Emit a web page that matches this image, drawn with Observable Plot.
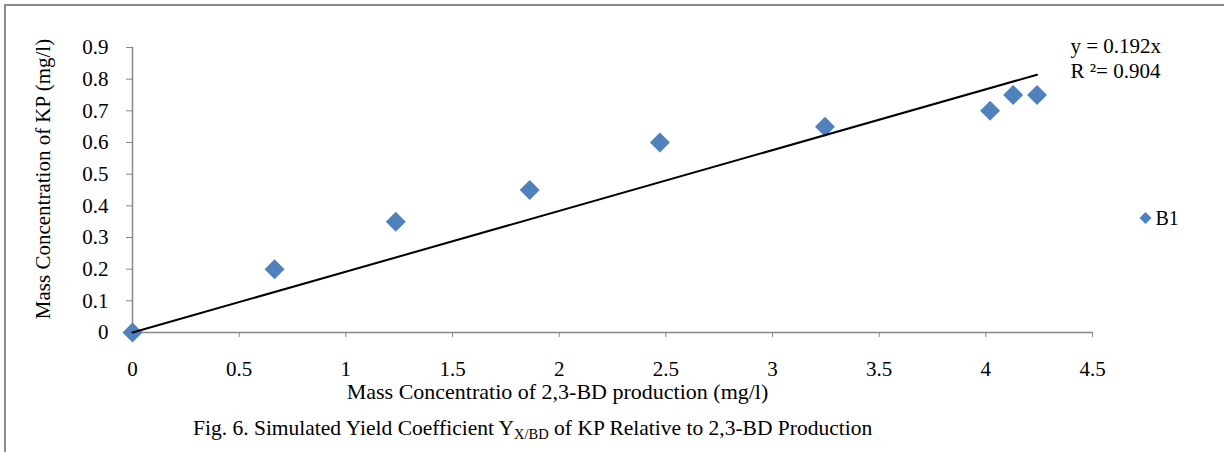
<!DOCTYPE html>
<html>
<head>
<meta charset="utf-8">
<script src="https://cdn.jsdelivr.net/npm/d3@7"></script>
<script src="https://cdn.jsdelivr.net/npm/@observablehq/plot@0.6"></script>
<style>
  html, body { margin: 0; padding: 0; background: #fff; }
  #wrap { position: relative; width: 1224px; height: 452px; overflow: hidden; font-family: "Liberation Serif", "Times New Roman", serif; }
  #frame { position: absolute; left: 4px; top: 4px; width: 1240px; height: 470px; border-top: 2px solid #8a8a8a; border-left: 2px solid #8a8a8a; }
  #chart { position: absolute; left: 0; top: 0; }
  #caption { position: absolute; left: 193px; top: 418px; font-size: 21.5px; line-height: 21px; color: #000; white-space: nowrap; }
  #caption sub { font-size: 14.5px; line-height: 0; vertical-align: -4px; }
</style>
</head>
<body>
<div id="wrap">
  <div id="frame"></div>
  <div id="chart"></div>
  <div id="caption">Fig. 6. Simulated Yield Coefficient Y<sub>X/BD</sub> of KP Relative to 2,3-BD Production</div>
</div>
<script>
// Data
const bdProduction = [0, 0.666, 1.234, 1.862, 2.472, 3.246, 4.02, 4.128, 4.24];
const kpConcentration = [0, 0.2, 0.35, 0.45, 0.6, 0.65, 0.7, 0.75, 0.75];
const seriesName = "B1";
const slope = 0.192;
const equationLines = ["y = 0.192x", "R \u00B2= 0.904"];
const xTicks = [0, 0.5, 1, 1.5, 2, 2.5, 3, 3.5, 4, 4.5];
const yTicks = [0, 0.1, 0.2, 0.3, 0.4, 0.5, 0.6, 0.7, 0.8, 0.9];
const xLabel = "Mass Concentratio of 2,3-BD production (mg/l)";
const yLabel = "Mass Concentration of KP (mg/l)";

const points = bdProduction.map((x, i) => ({x, y: kpConcentration[i]}));
const xMax = d3.max(bdProduction);
const trend = [{x: 0, y: 0}, {x: xMax, y: slope * xMax}];

const font = `"Liberation Serif", "Times New Roman", serif`;
const axisGray = "#868686";
const blue = "#4F81BD";

const chart = Plot.plot({
  width: 1224,
  height: 405,
  marginLeft: 132,
  marginRight: 132,
  marginTop: 47,
  marginBottom: 73,
  style: {fontFamily: font, fontSize: "21px", color: "#000", background: "transparent", overflow: "visible"},
  x: {domain: [0, 4.5]},
  y: {domain: [0, 0.9]},
  marks: [
    Plot.ruleX([0], {stroke: axisGray, strokeWidth: 1.5}),
    Plot.ruleY([0], {stroke: axisGray, strokeWidth: 1.5}),
    Plot.axisX({ticks: xTicks, tickFormat: d => String(d), tickSize: 5, tickPadding: 24, label: null, stroke: axisGray, fill: "#000", fontSize: 21}),
    Plot.axisY({ticks: yTicks, tickFormat: d => String(d), tickSize: 6, tickPadding: 18, label: null, stroke: axisGray, fill: "#000", fontSize: 21}),
    Plot.dot(points, {x: "x", y: "y", symbol: "diamond2", r: 9, fill: blue, stroke: "none"}),
    Plot.line(trend, {x: "x", y: "y", stroke: "#000", strokeWidth: 2}),
    Plot.text([equationLines.join("\n")], {frameAnchor: "top-right", textAnchor: "start", lineAnchor: "top", lineHeight: 1.17, dx: -22, dy: -12, fontSize: 21, fill: "#000"}),
    Plot.text([xLabel], {frameAnchor: "bottom", textAnchor: "middle", lineAnchor: "middle", dx: -55, dy: 59, fontSize: 22, fill: "#000"}),
    Plot.text([yLabel], {frameAnchor: "left", textAnchor: "middle", lineAnchor: "middle", rotate: -90, dx: -89, dy: -11, fontSize: 21, fill: "#000"}),
    Plot.dot([seriesName], {frameAnchor: "right", dx: 53, dy: 28, symbol: "diamond2", r: 5.4, fill: blue, stroke: "none"}),
    Plot.text([seriesName], {frameAnchor: "right", dx: 63, dy: 29, textAnchor: "start", lineAnchor: "middle", fontSize: 20, fill: "#000"})
  ]
});
document.getElementById("chart").appendChild(chart);
</script>
</body>
</html>
